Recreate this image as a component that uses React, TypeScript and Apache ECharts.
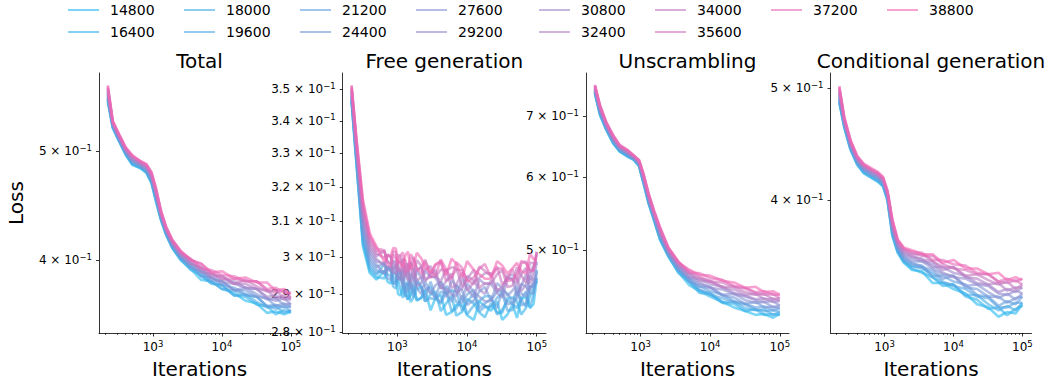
import React, { useEffect, useRef } from 'react';
import * as echarts from 'echarts';

// ---------------- data ----------------
const ITERATIONS = [220, 260, 320, 400, 500, 650, 800, 950, 1100, 1300, 1550, 1900, 2500, 3500, 5000, 7000, 10000, 15000, 22000, 32000, 45000, 60000, 80000, 100000];

// the free-generation curves are noisier, so they are read at more checkpoints
const FREE_GEN_ITERATIONS = [220, 260, 320, 400, 500, 650, 720, 800, 870, 950, 1020, 1100, 1200, 1300, 1420, 1550, 1700, 1900, 2200, 2500, 3000, 3500, 4200, 5000, 6000, 7000, 8500, 10000, 12500, 15000, 18000, 22000, 27000, 32000, 38000, 45000, 52000, 60000, 70000, 80000, 90000, 100000];

const RUNS = ['14800', '16400', '18000', '19600', '21200', '24400', '27600', '29200', '30800', '32400', '34000', '35600', '37200', '38800'];

const LEGEND_COLUMNS = [
  ['14800', '16400'], ['18000', '19600'], ['21200', '24400'], ['27600', '29200'],
  ['30800', '32400'], ['34000', '35600'], ['37200'], ['38800'],
];

const RUN_COLORS = [
  'rgb(35,185,240)', 'rgb(51,178,235)', 'rgb(67,172,230)', 'rgb(83,165,226)', 'rgb(99,159,221)',
  'rgb(115,152,216)', 'rgb(131,146,211)', 'rgb(146,139,207)', 'rgb(162,133,202)', 'rgb(178,126,197)',
  'rgb(194,120,192)', 'rgb(210,113,188)', 'rgb(226,107,183)', 'rgb(242,100,178)',
];

const TOTAL_LOSS = [
  [0.553,0.524,0.510,0.496,0.486,0.483,0.478,0.468,0.451,0.434,0.421,0.410,0.400,0.393,0.384,0.383,0.377,0.374,0.368,0.366,0.359,0.360,0.358,0.360],
  [0.555,0.525,0.511,0.497,0.487,0.483,0.479,0.469,0.452,0.435,0.421,0.410,0.401,0.392,0.388,0.381,0.380,0.372,0.371,0.365,0.364,0.358,0.361,0.359],
  [0.556,0.525,0.511,0.497,0.487,0.484,0.479,0.469,0.453,0.435,0.422,0.411,0.401,0.395,0.387,0.382,0.380,0.372,0.373,0.367,0.363,0.364,0.359,0.361],
  [0.557,0.526,0.512,0.498,0.488,0.484,0.480,0.470,0.454,0.436,0.422,0.411,0.402,0.394,0.390,0.383,0.377,0.376,0.372,0.371,0.364,0.362,0.364,0.360],
  [0.558,0.526,0.512,0.498,0.489,0.485,0.480,0.471,0.455,0.436,0.423,0.412,0.402,0.396,0.387,0.386,0.380,0.378,0.373,0.371,0.364,0.365,0.363,0.364],
  [0.560,0.527,0.513,0.499,0.490,0.486,0.481,0.472,0.456,0.437,0.424,0.413,0.403,0.394,0.391,0.384,0.383,0.376,0.376,0.371,0.370,0.364,0.366,0.363],
  [0.562,0.528,0.514,0.500,0.491,0.486,0.482,0.473,0.457,0.438,0.424,0.413,0.404,0.398,0.391,0.386,0.383,0.376,0.378,0.373,0.369,0.370,0.365,0.366],
  [0.563,0.528,0.514,0.500,0.491,0.487,0.483,0.474,0.458,0.439,0.425,0.414,0.404,0.397,0.393,0.386,0.382,0.381,0.378,0.377,0.370,0.368,0.370,0.365],
  [0.565,0.529,0.515,0.501,0.492,0.487,0.484,0.475,0.459,0.440,0.425,0.414,0.405,0.399,0.390,0.389,0.384,0.383,0.378,0.377,0.371,0.372,0.369,0.369],
  [0.566,0.530,0.516,0.502,0.493,0.488,0.484,0.476,0.460,0.440,0.426,0.415,0.406,0.397,0.394,0.387,0.387,0.381,0.381,0.377,0.376,0.370,0.372,0.369],
  [0.568,0.530,0.516,0.502,0.494,0.489,0.485,0.477,0.461,0.441,0.427,0.416,0.406,0.401,0.394,0.389,0.387,0.381,0.384,0.379,0.375,0.376,0.370,0.371],
  [0.569,0.531,0.517,0.503,0.495,0.489,0.486,0.477,0.462,0.442,0.427,0.416,0.407,0.400,0.397,0.390,0.385,0.385,0.383,0.383,0.376,0.374,0.376,0.370],
  [0.571,0.531,0.517,0.503,0.495,0.490,0.486,0.478,0.463,0.442,0.428,0.417,0.407,0.401,0.393,0.392,0.388,0.387,0.383,0.383,0.377,0.378,0.374,0.374],
  [0.572,0.532,0.518,0.504,0.496,0.490,0.487,0.479,0.464,0.443,0.428,0.417,0.408,0.400,0.397,0.390,0.391,0.385,0.386,0.382,0.382,0.376,0.377,0.373],
];

const FREE_GEN_LOSS = [
  [0.3460,0.3260,0.3030,0.2957,0.2939,0.2962,0.2933,0.2928,0.2959,0.2954,0.2901,0.2896,0.2921,0.2910,0.2885,0.2897,0.2920,0.2883,0.2890,0.2910,0.2857,0.2889,0.2897,0.2845,0.2852,0.2872,0.2870,0.2844,0.2832,0.2880,0.2868,0.2856,0.2880,0.2832,0.2846,0.2872,0.2837,0.2887,0.2892,0.2863,0.2873,0.2942],
  [0.3463,0.3265,0.3038,0.2964,0.2945,0.2942,0.2973,0.2968,0.2927,0.2934,0.2941,0.2913,0.2890,0.2928,0.2927,0.2879,0.2890,0.2913,0.2920,0.2880,0.2899,0.2907,0.2855,0.2875,0.2895,0.2843,0.2853,0.2887,0.2875,0.2851,0.2839,0.2875,0.2851,0.2851,0.2889,0.2891,0.2880,0.2846,0.2863,0.2894,0.2916,0.2935],
  [0.3467,0.3271,0.3047,0.2971,0.2951,0.2982,0.2953,0.2948,0.2920,0.2915,0.2947,0.2942,0.2944,0.2898,0.2885,0.2933,0.2920,0.2883,0.2890,0.2911,0.2918,0.2890,0.2874,0.2907,0.2854,0.2862,0.2896,0.2846,0.2870,0.2882,0.2894,0.2894,0.2846,0.2858,0.2884,0.2874,0.2863,0.2889,0.2906,0.2865,0.2899,0.2965],
  [0.3471,0.3276,0.3057,0.2979,0.2957,0.2962,0.2969,0.2964,0.2948,0.2932,0.2964,0.2959,0.2914,0.2893,0.2928,0.2928,0.2891,0.2938,0.2921,0.2881,0.2889,0.2886,0.2906,0.2902,0.2910,0.2906,0.2856,0.2878,0.2902,0.2854,0.2866,0.2866,0.2890,0.2902,0.2856,0.2858,0.2907,0.2885,0.2866,0.2921,0.2919,0.2935],
  [0.3475,0.3283,0.3067,0.2988,0.2965,0.2955,0.2974,0.2969,0.2930,0.2926,0.2969,0.2966,0.2921,0.2913,0.2935,0.2923,0.2898,0.2933,0.2917,0.2889,0.2933,0.2894,0.2878,0.2922,0.2906,0.2879,0.2877,0.2899,0.2911,0.2863,0.2875,0.2887,0.2863,0.2911,0.2901,0.2879,0.2916,0.2870,0.2875,0.2918,0.2928,0.2942],
  [0.3479,0.3289,0.3078,0.2997,0.2972,0.2984,0.2943,0.2938,0.2971,0.2955,0.2939,0.2960,0.2964,0.2908,0.2907,0.2955,0.2942,0.2917,0.2900,0.2933,0.2905,0.2890,0.2934,0.2907,0.2879,0.2924,0.2909,0.2871,0.2883,0.2907,0.2919,0.2883,0.2907,0.2907,0.2873,0.2876,0.2889,0.2927,0.2920,0.2903,0.2901,0.2961],
  [0.3484,0.3297,0.3090,0.3007,0.2980,0.2954,0.2973,0.2968,0.2989,0.2986,0.2946,0.2943,0.2924,0.2953,0.2963,0.2915,0.2926,0.2961,0.2945,0.2918,0.2902,0.2923,0.2932,0.2892,0.2937,0.2922,0.2883,0.2929,0.2905,0.2893,0.2881,0.2881,0.2929,0.2917,0.2895,0.2910,0.2923,0.2901,0.2894,0.2949,0.2935,0.2944],
  [0.3489,0.3304,0.3102,0.3016,0.2988,0.2983,0.2966,0.2962,0.2971,0.2980,0.2940,0.2938,0.2967,0.2973,0.2936,0.2935,0.2970,0.2921,0.2929,0.2962,0.2947,0.2945,0.2917,0.2914,0.2898,0.2895,0.2941,0.2915,0.2891,0.2939,0.2927,0.2927,0.2903,0.2891,0.2941,0.2943,0.2897,0.2923,0.2952,0.2910,0.2932,0.2988],
  [0.3494,0.3310,0.3113,0.3025,0.2995,0.2976,0.3007,0.3002,0.2964,0.2973,0.2982,0.2956,0.2938,0.2981,0.2979,0.2931,0.2942,0.2965,0.2973,0.2934,0.2955,0.2965,0.2914,0.2934,0.2955,0.2904,0.2914,0.2948,0.2936,0.2912,0.2900,0.2936,0.2912,0.2912,0.2950,0.2952,0.2942,0.2908,0.2925,0.2955,0.2977,0.2983],
  [0.3498,0.3317,0.3123,0.3034,0.3003,0.3017,0.2988,0.2983,0.2957,0.2955,0.2988,0.2986,0.2993,0.2953,0.2939,0.2986,0.2973,0.2936,0.2945,0.2966,0.2975,0.2949,0.2934,0.2967,0.2916,0.2925,0.2958,0.2908,0.2932,0.2944,0.2956,0.2956,0.2908,0.2920,0.2946,0.2937,0.2927,0.2953,0.2970,0.2928,0.2962,0.3014],
  [0.3502,0.3323,0.3134,0.3043,0.3010,0.2998,0.3005,0.3000,0.2987,0.2973,0.3006,0.3004,0.2964,0.2948,0.2982,0.2982,0.2945,0.2992,0.2976,0.2938,0.2947,0.2945,0.2966,0.2963,0.2972,0.2970,0.2919,0.2941,0.2965,0.2917,0.2929,0.2929,0.2953,0.2965,0.2919,0.2922,0.2972,0.2950,0.2931,0.2985,0.2983,0.2984],
  [0.3506,0.3330,0.3144,0.3052,0.3017,0.3015,0.2986,0.2981,0.3016,0.3014,0.2964,0.2962,0.2995,0.2992,0.2966,0.2977,0.3000,0.2963,0.2972,0.2993,0.2943,0.2978,0.2986,0.2935,0.2945,0.2967,0.2964,0.2938,0.2926,0.2974,0.2962,0.2950,0.2974,0.2926,0.2940,0.2967,0.2933,0.2983,0.2988,0.2958,0.2968,0.3015],
  [0.3510,0.3335,0.3154,0.3059,0.3024,0.3019,0.2978,0.2974,0.3008,0.2995,0.2981,0.3004,0.3013,0.2962,0.2960,0.3008,0.2995,0.2970,0.2954,0.2988,0.2962,0.2949,0.2994,0.2967,0.2940,0.2986,0.2971,0.2933,0.2945,0.2969,0.2981,0.2945,0.2969,0.2969,0.2935,0.2938,0.2952,0.2990,0.2983,0.2965,0.2963,0.3009],
  [0.3514,0.3341,0.3163,0.3067,0.3030,0.2987,0.3006,0.3002,0.3025,0.3024,0.2986,0.2985,0.2971,0.3005,0.3015,0.2966,0.2977,0.3012,0.2997,0.2971,0.2957,0.2980,0.2989,0.2950,0.2996,0.2982,0.2943,0.2989,0.2965,0.2953,0.2941,0.2941,0.2989,0.2977,0.2955,0.2970,0.2984,0.2962,0.2955,0.3009,0.2995,0.2991],
];

const UNSCRAMBLING_LOSS = [
  [0.741,0.702,0.676,0.654,0.640,0.632,0.627,0.617,0.591,0.562,0.539,0.513,0.492,0.473,0.458,0.451,0.445,0.439,0.433,0.429,0.425,0.426,0.422,0.426],
  [0.742,0.703,0.677,0.655,0.641,0.633,0.627,0.618,0.592,0.563,0.540,0.514,0.493,0.472,0.462,0.449,0.448,0.438,0.437,0.429,0.431,0.425,0.426,0.425],
  [0.743,0.704,0.678,0.656,0.641,0.633,0.628,0.618,0.593,0.564,0.541,0.515,0.494,0.476,0.462,0.452,0.449,0.439,0.439,0.432,0.430,0.431,0.425,0.428],
  [0.744,0.706,0.679,0.657,0.642,0.634,0.628,0.619,0.594,0.565,0.542,0.516,0.494,0.475,0.465,0.453,0.447,0.443,0.439,0.436,0.431,0.429,0.430,0.428],
  [0.746,0.707,0.680,0.658,0.643,0.635,0.629,0.620,0.595,0.566,0.543,0.518,0.495,0.477,0.462,0.457,0.451,0.447,0.440,0.437,0.433,0.434,0.430,0.432],
  [0.747,0.709,0.681,0.659,0.644,0.636,0.630,0.621,0.596,0.567,0.544,0.519,0.496,0.476,0.466,0.456,0.455,0.446,0.444,0.437,0.439,0.433,0.434,0.432],
  [0.748,0.710,0.682,0.660,0.645,0.637,0.630,0.622,0.598,0.569,0.545,0.521,0.497,0.480,0.467,0.459,0.456,0.447,0.448,0.441,0.438,0.439,0.433,0.435],
  [0.750,0.712,0.684,0.662,0.646,0.638,0.631,0.622,0.599,0.570,0.547,0.522,0.499,0.480,0.470,0.461,0.455,0.453,0.448,0.445,0.441,0.439,0.440,0.435],
  [0.751,0.713,0.685,0.663,0.647,0.639,0.631,0.623,0.600,0.571,0.548,0.524,0.499,0.482,0.467,0.465,0.459,0.456,0.449,0.446,0.442,0.443,0.439,0.440],
  [0.752,0.715,0.686,0.664,0.648,0.640,0.632,0.624,0.602,0.573,0.549,0.525,0.500,0.481,0.472,0.463,0.462,0.455,0.453,0.447,0.448,0.442,0.443,0.440],
  [0.754,0.716,0.687,0.665,0.649,0.641,0.633,0.625,0.603,0.574,0.550,0.526,0.501,0.485,0.472,0.466,0.463,0.456,0.456,0.450,0.447,0.448,0.442,0.443],
  [0.755,0.718,0.688,0.666,0.650,0.642,0.633,0.626,0.604,0.575,0.551,0.528,0.502,0.484,0.475,0.468,0.462,0.461,0.456,0.454,0.449,0.447,0.448,0.443],
  [0.756,0.719,0.689,0.667,0.650,0.642,0.634,0.626,0.605,0.576,0.552,0.529,0.503,0.486,0.472,0.472,0.466,0.464,0.457,0.455,0.450,0.451,0.447,0.447],
  [0.757,0.720,0.690,0.668,0.651,0.643,0.634,0.627,0.606,0.577,0.553,0.530,0.504,0.485,0.476,0.470,0.469,0.463,0.461,0.455,0.456,0.450,0.451,0.447],
];

const COND_GEN_LOSS = [
  [0.485,0.462,0.442,0.429,0.422,0.418,0.415,0.411,0.400,0.372,0.360,0.353,0.348,0.347,0.339,0.339,0.335,0.332,0.325,0.323,0.317,0.320,0.319,0.325],
  [0.488,0.463,0.443,0.430,0.422,0.418,0.415,0.411,0.400,0.373,0.361,0.354,0.349,0.346,0.343,0.337,0.338,0.330,0.328,0.322,0.323,0.318,0.322,0.324],
  [0.487,0.463,0.443,0.430,0.423,0.419,0.416,0.412,0.401,0.374,0.361,0.354,0.350,0.350,0.343,0.339,0.338,0.331,0.331,0.325,0.321,0.324,0.321,0.326],
  [0.488,0.464,0.444,0.431,0.424,0.420,0.417,0.413,0.402,0.375,0.362,0.355,0.351,0.349,0.346,0.340,0.337,0.335,0.330,0.329,0.323,0.323,0.326,0.326],
  [0.490,0.465,0.445,0.431,0.424,0.420,0.417,0.413,0.402,0.376,0.363,0.356,0.352,0.351,0.344,0.344,0.340,0.338,0.331,0.330,0.324,0.327,0.325,0.330],
  [0.491,0.466,0.445,0.432,0.425,0.421,0.418,0.414,0.403,0.377,0.364,0.357,0.353,0.350,0.348,0.342,0.344,0.336,0.335,0.330,0.330,0.326,0.329,0.330],
  [0.493,0.467,0.446,0.433,0.426,0.422,0.419,0.415,0.404,0.378,0.365,0.358,0.354,0.354,0.349,0.345,0.344,0.337,0.338,0.333,0.329,0.332,0.328,0.332],
  [0.494,0.467,0.447,0.433,0.426,0.422,0.419,0.415,0.404,0.379,0.365,0.359,0.356,0.354,0.352,0.346,0.343,0.342,0.338,0.337,0.332,0.331,0.334,0.332],
  [0.496,0.468,0.448,0.434,0.427,0.423,0.420,0.416,0.405,0.380,0.366,0.360,0.357,0.356,0.350,0.350,0.346,0.344,0.339,0.338,0.333,0.335,0.333,0.336],
  [0.497,0.469,0.448,0.435,0.428,0.424,0.421,0.417,0.406,0.381,0.367,0.361,0.358,0.355,0.354,0.348,0.350,0.343,0.342,0.338,0.339,0.334,0.336,0.336],
  [0.498,0.470,0.449,0.435,0.428,0.424,0.421,0.417,0.406,0.382,0.368,0.362,0.359,0.359,0.354,0.350,0.350,0.344,0.345,0.341,0.338,0.340,0.335,0.338],
  [0.500,0.471,0.450,0.436,0.429,0.425,0.422,0.418,0.407,0.383,0.369,0.363,0.360,0.358,0.358,0.352,0.349,0.348,0.345,0.345,0.340,0.339,0.341,0.338],
  [0.501,0.471,0.450,0.436,0.429,0.425,0.422,0.418,0.407,0.384,0.369,0.363,0.361,0.360,0.355,0.355,0.352,0.351,0.346,0.345,0.340,0.342,0.340,0.342],
  [0.502,0.472,0.451,0.437,0.430,0.426,0.423,0.419,0.408,0.385,0.370,0.364,0.362,0.359,0.359,0.353,0.355,0.349,0.349,0.345,0.346,0.341,0.343,0.341],
];

const PANEL_TITLES = ['Total', 'Free generation', 'Unscrambling', 'Conditional generation'];
const X_TICKS = [1000, 10000, 100000];
const X_MINOR_TICKS = [200, 300, 400, 500, 600, 700, 800, 900, 2000, 3000, 4000, 5000, 6000, 7000, 8000, 9000, 20000, 30000, 40000, 50000, 60000, 70000, 80000, 90000];
const Y_TICKS_TOTAL = [0.4, 0.5];
const Y_TICKS_FREE = [0.28, 0.29, 0.30, 0.31, 0.32, 0.33, 0.34, 0.35];
const Y_TICKS_UNSCR = [0.5, 0.6, 0.7];
const Y_TICKS_COND = [0.4, 0.5];

// ---------------- layout / style ----------------
const FONT = 'DejaVu Sans';
const X_RANGE = [164, 135800];
const GRID_TOP = 73;
const GRID_HEIGHT = 260;
const PANELS = [
  { iters: ITERATIONS, data: TOTAL_LOSS, yTicks: Y_TICKS_TOTAL, yRange: [0.3445, 0.5867], left: 99, width: 201 },
  { iters: FREE_GEN_ITERATIONS, data: FREE_GEN_LOSS, yTicks: Y_TICKS_FREE, yRange: [0.2798, 0.3553], left: 342.7, width: 203.3 },
  { iters: ITERATIONS, data: UNSCRAMBLING_LOSS, yTicks: Y_TICKS_UNSCR, yRange: [0.4061, 0.7798], left: 586, width: 203 },
  { iters: ITERATIONS, data: COND_GEN_LOSS, yTicks: Y_TICKS_COND, yRange: [0.3069, 0.5152], left: 830.5, width: 201 },
];
const LEGEND_LEFTS = [68, 184, 300, 416, 539, 655, 771, 887];

const RICH = {
  n: { fontSize: 12, fontFamily: FONT, color: '#000', lineHeight: 16 },
  e: { fontSize: 8.5, fontFamily: FONT, color: '#000', lineHeight: 7, verticalAlign: 'top' },
};
const AXIS_LINE = { show: true, onZero: false, lineStyle: { color: '#000', width: 0.8 } };
const NAME_STYLE = { fontSize: 20, fontFamily: FONT, color: '#000' };

function buildOption() {
  const lg = Math.log10;
  const grid = PANELS.map((p) => ({ left: p.left, top: GRID_TOP, width: p.width, height: GRID_HEIGHT, containLabel: false }));

  const xAxis: any[] = [];
  PANELS.forEach((p, g) => {
    xAxis.push({
      type: 'value', gridIndex: g, position: 'bottom', min: lg(X_RANGE[0]), max: lg(X_RANGE[1]),
      axisLine: AXIS_LINE,
      axisTick: { show: true, length: 3.5, lineStyle: { color: '#000', width: 0.8 }, customValues: X_TICKS.map(lg) },
      axisLabel: { customValues: X_TICKS.map(lg), formatter: (v: number) => `{n|10}{e|${Math.round(v)}}`, rich: RICH, margin: 6 },
      splitLine: { show: false },
      name: 'Iterations', nameLocation: 'middle', nameGap: 26,
      nameTextStyle: NAME_STYLE,
    });
    xAxis.push({
      type: 'value', gridIndex: g, position: 'bottom', min: lg(X_RANGE[0]), max: lg(X_RANGE[1]),
      axisLine: { show: false, onZero: false },
      axisTick: { show: true, length: 2, lineStyle: { color: '#000', width: 0.6 }, customValues: X_MINOR_TICKS.map(lg) },
      axisLabel: { show: false },
      splitLine: { show: false },
    });
  });

  const yAxis = PANELS.map((p, g) => ({
    type: 'value', gridIndex: g, min: lg(p.yRange[0]), max: lg(p.yRange[1]),
    axisLine: AXIS_LINE,
    axisTick: { show: true, length: 3, lineStyle: { color: '#000', width: 0.8 }, customValues: p.yTicks.map(lg) },
    axisLabel: {
      customValues: p.yTicks.map(lg),
      formatter: (v: number) => {
        const m = Math.round(Math.pow(10, v) * 100) / 10;
        return `{n|${m} × 10}{e|\u22121}`;
      },
      rich: RICH, margin: 7,
    },
    splitLine: { show: false },
    ...(g === 0
      ? { name: 'Loss', nameLocation: 'middle', nameGap: 73, nameTextStyle: NAME_STYLE }
      : {}),
  }));

  const series: any[] = [];
  PANELS.forEach((p, g) => {
    RUNS.forEach((run, i) => {
      series.push({
        type: 'line', name: run, xAxisIndex: 2 * g, yAxisIndex: g,
        data: p.iters.map((it, k) => [lg(it), lg(p.data[i][k])]),
        symbol: 'none', showSymbol: false, silent: true,
        lineStyle: { color: RUN_COLORS[i], width: 2.6, opacity: 0.6 },
        itemStyle: { color: RUN_COLORS[i] },
        emphasis: { disabled: true },
      });
    });
  });

  const title = PANELS.map((p, g) => ({
    text: PANEL_TITLES[g], left: p.left + p.width / 2, top: 51, textAlign: 'center', padding: 0,
    textStyle: { fontSize: 20, fontWeight: 'normal', fontFamily: FONT, color: '#000' },
  }));

  const legend = LEGEND_COLUMNS.map((names, c) => ({
    data: names, orient: 'vertical', left: LEGEND_LEFTS[c], top: 3, padding: 0,
    icon: 'rect', itemWidth: 31, itemHeight: 2, itemGap: 8, selectedMode: false,
    itemStyle: { opacity: 0.6 },
    textStyle: { fontSize: 14, fontFamily: FONT, color: '#000', lineHeight: 14, padding: [0, 0, 0, 6] },
  }));

  return {
    animation: false,
    backgroundColor: '#fff',
    textStyle: { fontFamily: FONT },
    title, legend, grid, xAxis, yAxis, series,
  };
}

export default function App() {
  const ref = useRef<HTMLDivElement>(null);
  useEffect(() => {
    const chart = echarts.init(ref.current as HTMLDivElement, null, { renderer: 'svg' });
    chart.setOption(buildOption() as any);
    return () => chart.dispose();
  }, []);
  return <div ref={ref} style={{ position: 'fixed', left: 0, top: 0, width: 1050, height: 387, background: '#fff' }} />;
}
